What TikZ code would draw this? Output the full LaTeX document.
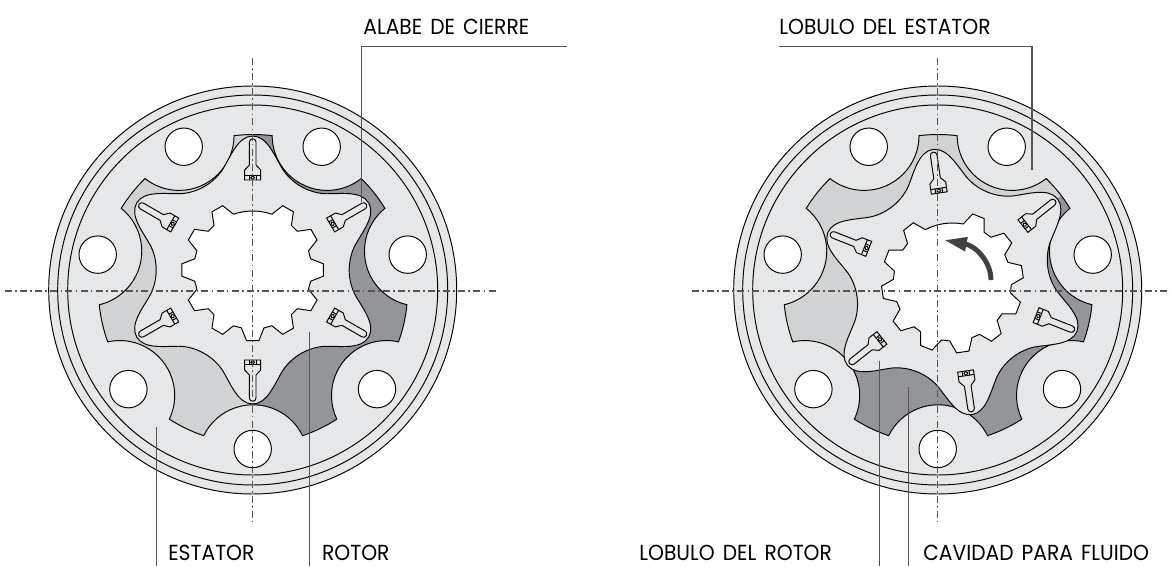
\documentclass[tikz,border=0pt]{standalone}
\usepackage{fontspec}
\setmainfont{Poppins}[FakeStretch=0.93, WordSpace=1.5]
\usepackage{tikz}
\usetikzlibrary{arrows.meta}

\definecolor{bodygray}{HTML}{E6E7E8}
\definecolor{lightpocket}{HTML}{D1D2D4}
\definecolor{darkpocket}{HTML}{939598}
\definecolor{arrowgray}{HTML}{414042}
\definecolor{leadgray}{HTML}{555555}

\tikzset{
  partline/.style={draw=black, line width=0.55pt},
  leader/.style={draw=leadgray, line width=0.75pt},
  axisline/.style={draw=leadgray, line width=0.8pt, dash pattern=on 4pt off 1.8pt on 1pt off 1.8pt},
  calllabel/.style={anchor=base west, inner sep=0pt, font=\fontsize{12.4pt}{14pt}\selectfont}
}

% stator bore: seven lobes around the bolt holes
\newcommand{\statorshape}{(270-18.6:153.7)
  \foreach \k in {0,...,6} {
    arc[start angle=270+\k*360/7+244, end angle=270+\k*360/7+116, radius=55]
    arc[start angle=270+\k*360/7+18.6, end angle=270+\k*360/7+32.83, radius=153.7]
  } -- cycle}

% rotor outline: six noses, six valleys
\newcommand{\rotorshape}{([rotate=90]99.8,-30.5)
  \foreach \l in {90,150,...,390} {
    .. controls ([rotate=\l]112.5,-22.5) and ([rotate=\l]134,-15) .. ([rotate=\l]134,0)
    .. controls ([rotate=\l]134,15) and ([rotate=\l]112.5,22.5) .. ([rotate=\l]99.8,30.5)
    arc[start angle=\l+235, end angle=\l+185, radius=55.5]
  } -- cycle}

% spline bore, one tooth left out at the top
\newcommand{\splineshape}{(109:59)
  \foreach \a in {120,150,...,420} {
    -- ({\a-11}:59) -- ({\a-5}:71) -- ({\a+5}:71) -- ({\a+11}:59)
  } arc[start angle=71, end angle=109, radius=59] -- cycle}

% #1 centre x, #2 #3 rotor offset, #4 rotor turn, #5 split angle of the pockets
\newcommand{\pumpunit}[5]{
  \begin{scope}[shift={(#1,276)}]
    \draw[partline, fill=bodygray] (0,0) circle [radius=204];
    \draw[partline] (0,0) circle [radius=195];
    \draw[partline] (0,0) circle [radius=185];
    \foreach \k in {0,...,6}
      \draw[partline, fill=white] (270+\k*360/7:159) circle [radius=18.7];
    \fill[lightpocket] \statorshape;
    \begin{scope}
      \clip[shift={(#2,#3)}, rotate=#5-90] (0,-300) rectangle (300,300);
      \fill[darkpocket] \statorshape;
    \end{scope}
    \draw[partline] \statorshape;
    \begin{scope}[shift={(#2,#3)}, rotate=#4]
      \draw[partline, fill=bodygray] \rotorshape;
      \draw[partline, fill=white] \splineshape;
      \foreach \k in {0,...,5} {
        \begin{scope}[rotate=\k*60]
          \draw[partline, fill=bodygray] (-3.3,128) -- (-3.3,105) -- (-8,100) -- (-8,90)
            -- (8,90) -- (8,100) -- (3.3,105) -- (3.3,128) arc[start angle=0, end angle=180, radius=3.3] -- cycle;
          \draw[partline] (-8,94.6) -- (8,94.6);
          \draw[partline] (-3.5,90) -- (-3.5,94.6);
          \draw[partline] (3.5,90) -- (3.5,94.6);
          \draw[partline, fill=white] (0,92.3) circle [radius=1.9];
        \end{scope}
      }
    \end{scope}
  \end{scope}
}

\begin{document}
\begin{tikzpicture}[x=0.02cm, y=0.02cm]
  \useasboundingbox (0,0) rectangle (1171,566);

  \pumpunit{252.7}{0}{20}{0}{90}
  \pumpunit{937.7}{14.7}{8}{8.4}{38.4}

  % centre lines
  \coordinate (lefthoriza) at (5,275);
  \coordinate (lefthorizb) at (498,275);
  \coordinate (leftverta) at (252.7,508);
  \coordinate (leftvertb) at (252.7,44);
  \coordinate (righthoriza) at (692,275);
  \coordinate (righthorizb) at (1171,275);
  \coordinate (rightverta) at (937.7,508);
  \coordinate (rightvertb) at (937.7,44);
  \draw[axisline] (lefthoriza) -- (lefthorizb);
  \draw[axisline] (leftverta) -- (leftvertb);
  \draw[axisline] (righthoriza) -- (righthorizb);
  \draw[axisline] (rightverta) -- (rightvertb);

  % top labels
  \node[calllabel] (alabe) at (363,532) {ALABE DE CIERRE};
  \node[calllabel] (lobest) at (779,532) {LOBULO DEL ESTATOR};
  \coordinate (alabea) at (566.7,519.3);
  \coordinate (alabeb) at (361.7,519.3);
  \coordinate (alabec) at (361.7,364);
  \coordinate (lobesta) at (779,519.3);
  \coordinate (lobestb) at (1032,519.3);
  \coordinate (lobestc) at (1032,396);
  \draw[leader] (alabea) -- (alabeb) -- (alabec);
  \draw[leader] (lobesta) -- (lobestb) -- (lobestc);

  % bottom labels
  \node[calllabel] (estator) at (168,5.3) {ESTATOR};
  \node[calllabel] (rotor) at (321.7,5.3) {ROTOR};
  \node[calllabel] (lobrot) at (639,5.3) {LOBULO DEL ROTOR};
  \node[calllabel] (cavidad) at (923,5.3) {CAVIDAD PARA FLUIDO};
  \coordinate (estatora) at (156.7,139);
  \coordinate (estatorb) at (156.7,0);
  \coordinate (rotora) at (309.3,234);
  \coordinate (rotorb) at (309.3,0);
  \coordinate (lobrota) at (879.5,205);
  \coordinate (lobrotb) at (879.5,0);
  \coordinate (cavidada) at (908.7,179);
  \coordinate (cavidadb) at (908.7,0);
  \draw[leader] (estatora) -- (estatorb);
  \draw[leader] (rotora) -- (rotorb);
  \draw[leader] (lobrota) -- (lobrotb);
  \draw[leader] (cavidada) -- (cavidadb);

  % turning arrow
  \coordinate (turna) at (991,286);
  \coordinate (turnb) at (944,326);
  \draw[arrowgray, line width=2.8pt, -{Triangle[length=13pt, width=7.5pt]}]
    (turna) .. controls (991,304) and (976,320) .. (turnb);
\end{tikzpicture}
\end{document}
